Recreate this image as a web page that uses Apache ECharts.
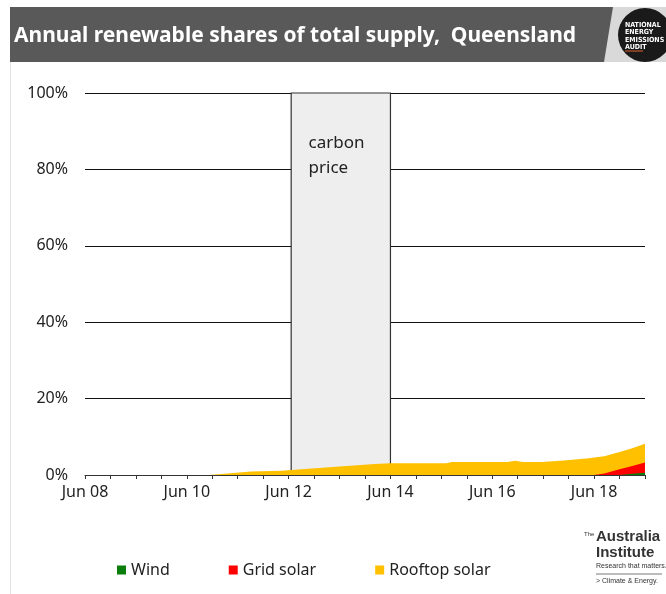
<!DOCTYPE html>
<html><head><meta charset="utf-8">
<script src="https://cdn.jsdelivr.net/npm/echarts@6/dist/echarts.min.js"></script>
<style>html,body{margin:0;padding:0;background:#fff}#chart{width:666px;height:594px}</style>
</head><body><div id="chart"></div>
<script>
// Decimal years (2008.5 = June 2008), shared by all three series
const timePoints = [2010.93, 2011.3, 2011.76, 2012.35, 2012.55, 2013.5, 2014.19, 2014.5, 2015.6, 2015.7, 2016.8, 2016.95, 2017.1, 2017.48, 2017.9, 2018.4, 2018.5, 2018.7, 2019.0, 2019.25, 2019.5];
// Annual shares of total supply, %
const wind    = [0, 0, 0, 0, 0, 0, 0, 0, 0, 0, 0, 0, 0, 0, 0, 0, 0, 0, 0, 0.3, 0.6];
const grid    = [0, 0, 0, 0, 0, 0, 0, 0, 0, 0, 0, 0, 0, 0, 0, 0, 0, 0.4, 1.5, 2.05, 2.7];
const rooftop = [0, 0.4, 0.9, 1.1, 1.3, 2.2, 2.9, 3.05, 3.1, 3.4, 3.4, 3.75, 3.4, 3.4, 3.8, 4.4, 4.55, 4.5, 4.5, 4.65, 4.9];
const seriesNames = ['Wind', 'Grid solar', 'Rooftop solar'];
const seriesColors = ['#0a7d0a', '#ff0000', '#ffc000'];
// Carbon price period
const carbonStart = 2012.55, carbonEnd = 2014.5;
const yTicks = [0, 20, 40, 60, 80, 100];

const FONT = 'Noto Sans';

// Both axes are numeric, so the stack (wind, then grid solar, then rooftop) is summed here
const layers = [wind, grid, rooftop];
const cumulative = layers.map((_, k) =>
  timePoints.map((t, i) => {
    let s = 0;
    for (let j = 0; j <= k; j++) s += layers[j][i];
    return [t, +s.toFixed(3)];
  })
);

const chart = echarts.init(document.getElementById('chart'), null, {renderer: 'canvas'});

function areaSeries(k) {
  const color = seriesColors[k];
  return {
    name: seriesNames[k], type: 'line', data: cumulative[k],
    symbol: 'none', z: 5 - k,
    lineStyle: {width: 0}, itemStyle: {color},
    areaStyle: {color, opacity: 1}
  };
}

chart.setOption({
  animation: false,
  textStyle: {fontFamily: FONT},
  grid: {left: 85, right: 21, top: 93, bottom: 119},
  legend: {
    data: seriesNames, left: 112, top: 557, icon: 'rect',
    itemWidth: 9, itemHeight: 9, itemGap: 59,
    textStyle: {fontSize: 16, color: '#222', fontFamily: FONT}
  },
  xAxis: {
    type: 'value', min: 2008.5, max: 2019.5, interval: 0.5,
    axisLine: {show: true, lineStyle: {color: '#333', width: 1}},
    axisTick: {show: true, length: 4, lineStyle: {color: '#333'}},
    splitLine: {show: false},
    axisLabel: {
      margin: 9, fontSize: 16, color: '#222',
      formatter: v => {
        const k = Math.round((v - 2008.5) * 2);
        if (k % 4 !== 0) return '';
        return 'Jun ' + String(Math.floor(v)).slice(2);
      }
    }
  },
  yAxis: {
    type: 'value', min: yTicks[0], max: yTicks[yTicks.length - 1], interval: 20,
    axisLine: {show: false}, axisTick: {show: false},
    splitLine: {lineStyle: {color: '#111', width: 1}},
    axisLabel: {margin: 17, fontSize: 16, color: '#222', formatter: '{value}%'}
  },
  series: [
    {
      type: 'line', data: [], z: 1, silent: true,
      markArea: {
        silent: true,
        itemStyle: {color: '#eeeeee', borderColor: '#333', borderWidth: 1.2},
        label: {
          show: true, position: [18, 38], align: 'left', verticalAlign: 'top',
          fontSize: 17, lineHeight: 25, color: '#222', fontFamily: FONT,
          formatter: 'carbon\nprice'
        },
        data: [[{xAxis: carbonStart, yAxis: 0.8}, {xAxis: carbonEnd, yAxis: 100}]]
      }
    },
    areaSeries(0),
    areaSeries(1),
    areaSeries(2)
  ],
  graphic: [
    // slide border on the left
    {type: 'line', shape: {x1: 10.5, y1: 62, x2: 10.5, y2: 594}, style: {stroke: '#e2e2e2', lineWidth: 1}},
    // header band
    {type: 'polygon', shape: {points: [[10, 7], [666, 7], [666, 62], [10, 62]]}, style: {fill: '#d9d9d9'}},
    {type: 'polygon', shape: {points: [[10, 7], [613, 7], [604, 62], [10, 62]]}, style: {fill: '#595959'}},
    {type: 'text', left: 14, top: 26, style: {text: 'Annual renewable shares of total supply,  Queensland', fill: '#fff', font: 'bold 21px "Noto Sans"'}},
    {type: 'circle', shape: {cx: 645, cy: 35, r: 27}, style: {fill: '#1a1a1a'}},
    {type: 'text', left: 625, top: 21, style: {text: 'NATIONAL\nENERGY\nEMISSIONS\nAUDIT', fill: '#fff', font: 'bold 7px "DejaVu Sans Condensed", "DejaVu Sans"', lineHeight: 7.5}},
    {type: 'line', shape: {x1: 625, y1: 51, x2: 643, y2: 51}, style: {stroke: '#e0602a', lineWidth: 1}},
    // publisher mark, bottom right
    {type: 'text', left: 584, top: 531, style: {text: 'The', fill: '#333', font: '6px "Liberation Sans"'}},
    {type: 'text', left: 596, top: 529, style: {text: 'Australia', fill: '#333', font: 'bold 15px "Liberation Sans"'}},
    {type: 'text', left: 596, top: 545, style: {text: 'Institute', fill: '#333', font: 'bold 15px "Liberation Sans"'}},
    {type: 'text', left: 596, top: 563, style: {text: 'Research that matters.', fill: '#333', font: '7px "Liberation Sans"'}},
    {type: 'line', shape: {x1: 596, y1: 574, x2: 662, y2: 574}, style: {stroke: '#555', lineWidth: 0.8}},
    {type: 'text', left: 596, top: 578, style: {text: '> Climate & Energy.', fill: '#333', font: '7px "Liberation Sans"'}}
  ]
});
</script>
</body></html>
